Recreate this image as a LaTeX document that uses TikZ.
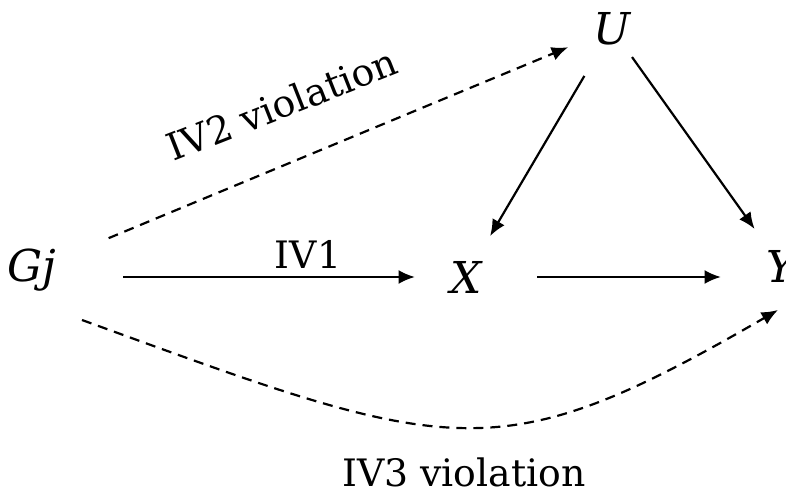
\documentclass[tikz,border=0pt]{standalone}
\usepackage{fontspec}
\setmainfont{DejaVu Serif}
\usetikzlibrary{arrows.meta}

\begin{document}
\begin{tikzpicture}[x=0.2mm,y=-0.2mm,
  var/.style={font=\fontsize{25}{30}\selectfont\itshape,inner sep=0pt},
  lbl/.style={font=\fontsize{21.5}{26}\selectfont,inner sep=0pt},
  link/.style={-{Latex[length=3.3mm,width=2.8mm]},line width=1.25pt},
  viol/.style={link,dash pattern=on 2mm off 1.4mm}]
  \useasboundingbox (0,0) rectangle (786,492);
  \node[var] (gj) at (32,270) {Gj};
  \node[var] (x) at (466,277) {X};
  \node[var] (y) at (781,266) {Y};
  \node[var] (u) at (612,29) {U};
  \node[lbl] (iv1) at (308,254) {IV1};
  \node[lbl,rotate=21.5] (iv2) at (282,104) {IV2 violation};
  \node[lbl] (iv3) at (464,472) {IV3 violation};
  \draw[link,shorten <=18.2mm,shorten >=10.2mm] (gj.center |- x.center) -- (x.center);
  \draw[link,shorten <=14.2mm,shorten >=12mm] (x.center) -- (x.center -| y.center);
  \draw[link,shorten <=10.9mm,shorten >=9.5mm] (u.center) -- (x.center);
  \draw[link,shorten <=6.9mm,shorten >=9.1mm] (u.center) -- (y.center);
  \draw[viol,shorten <=16.6mm,shorten >=9.5mm] (gj.center) -- (u.center);
  \draw[viol] ([shift={(50,50)}]gj.center) .. controls (453,455) and (495,474) .. ([shift={(-3,44)}]y.center);
\end{tikzpicture}
\end{document}
